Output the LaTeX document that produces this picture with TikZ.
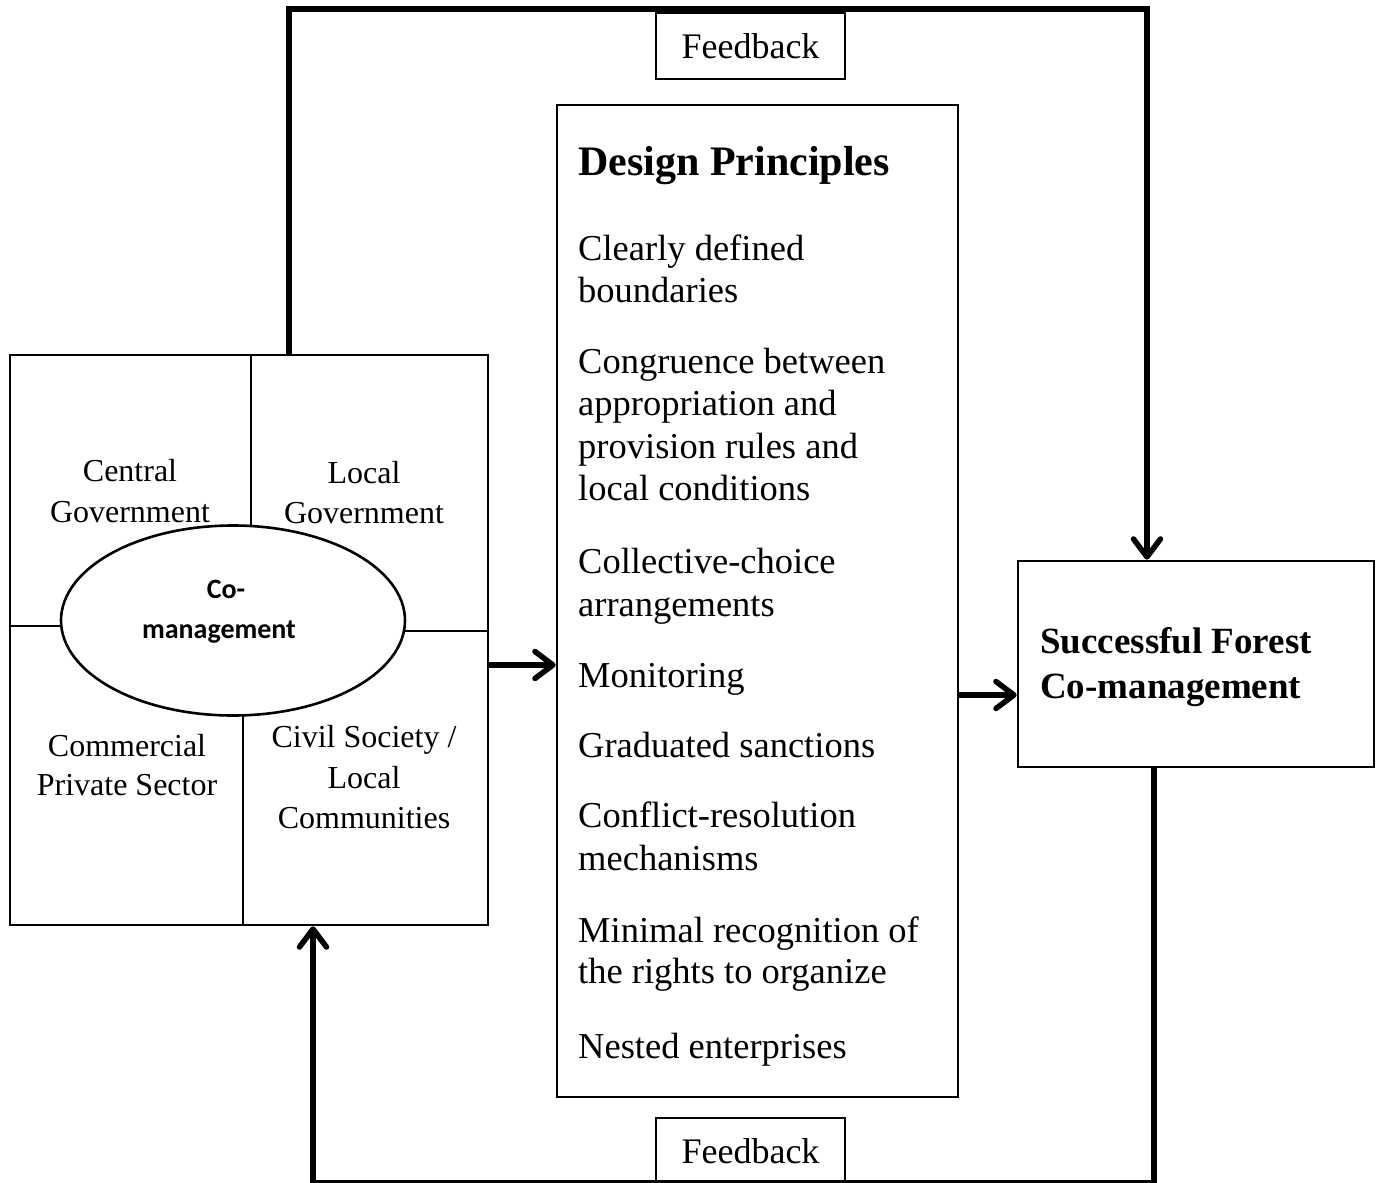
\documentclass[tikz,border=0pt]{standalone}
\usepackage{fontspec}
\setmainfont{Liberation Serif}
\newfontfamily\carlitofont{Carlito}
\usetikzlibrary{arrows.meta,shapes.geometric}
\newcommand\fsDP{\fontsize{36.5}{42.5}\selectfont}
\newcommand\fsFB{\fontsize{36}{42.5}\selectfont}
\newcommand\fsLB{\fontsize{32}{40}\selectfont}
\newcommand\fsHD{\fontsize{42}{50}\selectfont\bfseries}
\newcommand\fsSF{\fontsize{37}{45}\selectfont\bfseries}
\begin{document}
\begin{tikzpicture}[x=1pt,y=-1pt,
  box/.style={draw,line width=2.6pt,rectangle,inner sep=0pt},
  thin/.style={line width=2.6pt},
  loopline/.style={line width=6pt},
  arr/.style={line width=5.5pt,-{Straight Barb[length=18pt,width=27pt,round]}},
  dptext/.style={anchor=base west,inner sep=0pt,font=\fsDP},
  lbtext/.style={anchor=base,inner sep=0pt,font=\fsLB},
  sftext/.style={anchor=base west,inner sep=0pt,font=\fsSF},
  fbtext/.style={anchor=base,inner sep=0pt,font=\fsFB},
  cmtext/.style={anchor=base,inner sep=0pt,font=\carlitofont\bfseries\fontsize{28}{40}\selectfont}]
\useasboundingbox[fill=white] (0,0) rectangle (1384,1183);

% main boxes
\node[box,minimum width=478pt,minimum height=570pt] (ag) at (249,640) {};
\node[box,minimum width=401pt,minimum height=992pt] (dp) at (757.5,601) {};
\node[box,minimum width=356pt,minimum height=206pt] (sf) at (1196,664) {};

% top feedback loop
\coordinate (tl) at (289,9);
\coordinate (tr) at (1147,9);
\draw[loopline,arr] (ag.north -| tl) -- (tl) -- (tr) -- (tr |- sf.north);

% feedback boxes
\node[box,fill=white,minimum width=189pt,minimum height=66pt] (fbt) at (750.5,46) {};
\node[fbtext] (fbtt) at (750.5,58) {Feedback};
\node[box,fill=white,minimum width=189pt,minimum height=70pt] (fbb) at (750.5,1153) {};
\node[fbtext] (fbbt) at (750.5,1163) {Feedback};

% bottom feedback loop
\coordinate (bl) at (313,1182.5);
\coordinate (br) at (1154,1182.5);
\draw[loopline,arr] (sf.south -| br) -- (br) -- (bl) -- (bl |- ag.south);

% dividers inside the actor box
\coordinate (cc) at (233,620.5);
\draw[thin] (ag.north -| 251,0) -- (251,620);
\draw[thin] (ag.south -| 243,0) -- (243,620);
\draw[thin] (ag.west |- 0,626) -- (233,626);
\draw[thin] (ag.east |- 0,631) -- (233,631);
\node[ellipse,draw,fill=white,line width=2.6pt,minimum width=344pt,minimum height=190pt,inner sep=0pt] (cm) at (cc) {};
\node[cmtext] (cm1) at (226,598) {Co-};
\node[cmtext] (cm2) at (219,638.5) {management};

% actor labels
\node[lbtext] (a1) at (130,481.6) {Central};
\node[lbtext] (a2) at (130,522) {Government};
\node[lbtext] (b1) at (364,483.5) {Local};
\node[lbtext] (b2) at (364,523) {Government};
\node[lbtext] (c1) at (127,756) {Commercial};
\node[lbtext] (c2) at (127,795) {Private Sector};
\node[lbtext] (d1) at (364,747.6) {Civil Society /};
\node[lbtext] (d2) at (364,788) {Local};
\node[lbtext] (d3) at (364,828) {Communities};

% design principles
\node[anchor=base west,inner sep=0pt,font=\fsHD] (h) at (578,175) {Design Principles};
\node[dptext] (p1) at (578,260) {Clearly defined};
\node[dptext] (p2) at (578,302) {boundaries};
\node[dptext] (p3) at (578,373) {Congruence between};
\node[dptext] (p4) at (578,415) {appropriation and};
\node[dptext] (p5) at (578,458) {provision rules and};
\node[dptext] (p6) at (578,500) {local conditions};
\node[dptext] (p7) at (578,573) {Collective-choice};
\node[dptext] (p8) at (578,616) {arrangements};
\node[dptext] (p9) at (578,687) {Monitoring};
\node[dptext] (p10) at (578,757) {Graduated sanctions};
\node[dptext] (p11) at (578,827) {Conflict-resolution};
\node[dptext] (p12) at (578,870) {mechanisms};
\node[dptext] (p13) at (578,942) {Minimal recognition of};
\node[dptext] (p14) at (578,983) {the rights to organize};
\node[dptext] (p15) at (578,1058) {Nested enterprises};

% success box text
\node[sftext] (s1) at (1040,653) {Successful Forest};
\node[sftext] (s2) at (1040,698) {Co-management};

% forward arrows
\coordinate (y1) at (0,665);
\coordinate (y2) at (0,695);
\draw[arr] (ag.east |- y1) -- (dp.west |- y1);
\draw[arr] (dp.east |- y2) -- (sf.west |- y2);
\end{tikzpicture}
\end{document}
